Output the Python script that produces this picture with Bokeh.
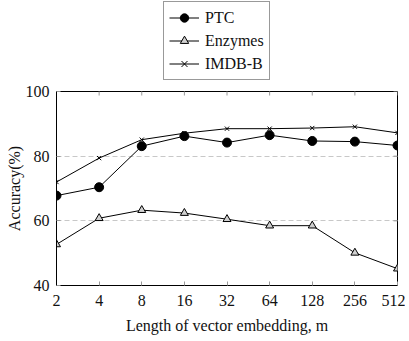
import math
from bokeh.plotting import figure
from bokeh.layouts import column
from bokeh.models import Range1d, FixedTicker, Legend, LegendItem
from bokeh.embed import file_html
from bokeh.resources import INLINE

# data
m_values = [2, 4, 8, 16, 32, 64, 128, 256, 512]
m_labels = ["2", "4", "8", "16", "32", "64", "128", "256", "512"]
ptc = [67.8, 70.4, 83.1, 86.2, 84.2, 86.5, 84.7, 84.5, 83.3]
enzymes = [52.7, 60.8, 63.3, 62.4, 60.5, 58.5, 58.5, 50.1, 45.2]
imdb_b = [72.0, 79.4, 85.1, 87.1, 88.5, 88.5, 88.7, 89.1, 87.2]
y_ticks = [40, 60, 80, 100]
series = [("PTC", ptc, "circle", 9, "black"),
          ("Enzymes", enzymes, "triangle", 8, "#d0d0d0"),
          ("IMDB-B", imdb_b, "x", 6, None)]

FONT = "Liberation Serif"
W = 405


def add_series(fig):
    out = []
    for name, vals, marker, size, fill in series:
        ln = fig.line(m_values, vals, line_color="black", line_width=1)
        sc = fig.scatter(m_values, vals, marker=marker, size=size,
                         fill_color=fill, line_color="black", line_width=1)
        out.append((name, ln, sc))
    return out


# ---- main plot
p = figure(width=W, height=259, output_backend="svg", toolbar_location=None,
           x_axis_type="log", x_range=Range1d(m_values[0], m_values[-1]),
           y_range=Range1d(y_ticks[0], y_ticks[-1]),
           min_border_left=56, min_border_right=8, min_border_top=11, min_border_bottom=54)

p.outline_line_color = "black"
p.outline_line_width = 1
p.xgrid.visible = False
p.ygrid.ticker = FixedTicker(ticks=y_ticks)
p.ygrid.grid_line_color = "#c8c8c8"
p.ygrid.grid_line_dash = "5 3"
p.ygrid.grid_line_width = 1

xa = p.xaxis[0]
xa.ticker = FixedTicker(ticks=m_values)
xa.major_label_overrides = {v: s for v, s in zip(m_values, m_labels)}
xa.axis_label = "Length of vector embedding, m"
ya = p.yaxis[0]
ya.ticker = FixedTicker(ticks=y_ticks)
ya.axis_label = "Accuracy(%)"

for ax in (xa, ya):
    ax.axis_line_color = "black"
    ax.major_tick_in = 4
    ax.major_tick_out = 0
    ax.major_tick_line_color = "#999999"
    ax.minor_tick_line_color = None
    ax.major_label_text_font = FONT
    ax.major_label_text_font_size = "16px"
    ax.major_label_text_color = "#111111"
    ax.axis_label_text_font = FONT
    ax.axis_label_text_font_size = "16px"
    ax.axis_label_text_font_style = "normal"
    ax.axis_label_text_color = "#111111"
xa.major_label_standoff = 9
xa.axis_label_standoff = 8
ya.major_label_standoff = 7
ya.axis_label_standoff = 0

# mirrored inner ticks on the top and right edges (clipped to the frame)
p.scatter(m_values, [y_ticks[-1]] * len(m_values), marker="dash", angle=math.pi / 2,
          size=8, line_color="#999999", line_width=1)
p.scatter([m_values[-1]] * len(y_ticks), y_ticks, marker="dash",
          size=8, line_color="#999999", line_width=1)

add_series(p)

# ---- legend strip above the plot (frames are aligned by the column)
lf = figure(width=W, height=80, output_backend="svg", toolbar_location=None,
            x_range=Range1d(0, 1), y_range=Range1d(0, 1),
            x_axis_location=None, y_axis_location=None,
            min_border_left=56, min_border_right=8, min_border_top=0, min_border_bottom=0)
lf.outline_line_color = None
lf.grid.visible = False
items = [LegendItem(label=name, renderers=[ln, sc]) for name, ln, sc in add_series(lf)]

legend = Legend(items=items, location=(107, 0), orientation="vertical")
legend.label_text_font = FONT
legend.label_text_font_size = "16px"
legend.label_text_color = "#111111"
legend.label_height = 21
legend.glyph_height = 21
legend.glyph_width = 30
legend.label_standoff = 6
legend.spacing = 2
legend.padding = 5
legend.margin = 0
legend.border_line_color = "#333333"
legend.border_line_width = 1
legend.background_fill_alpha = 1
lf.add_layout(legend)

layout = column(lf, p, spacing=0)
open("out.html", "w").write(file_html(layout, INLINE))
